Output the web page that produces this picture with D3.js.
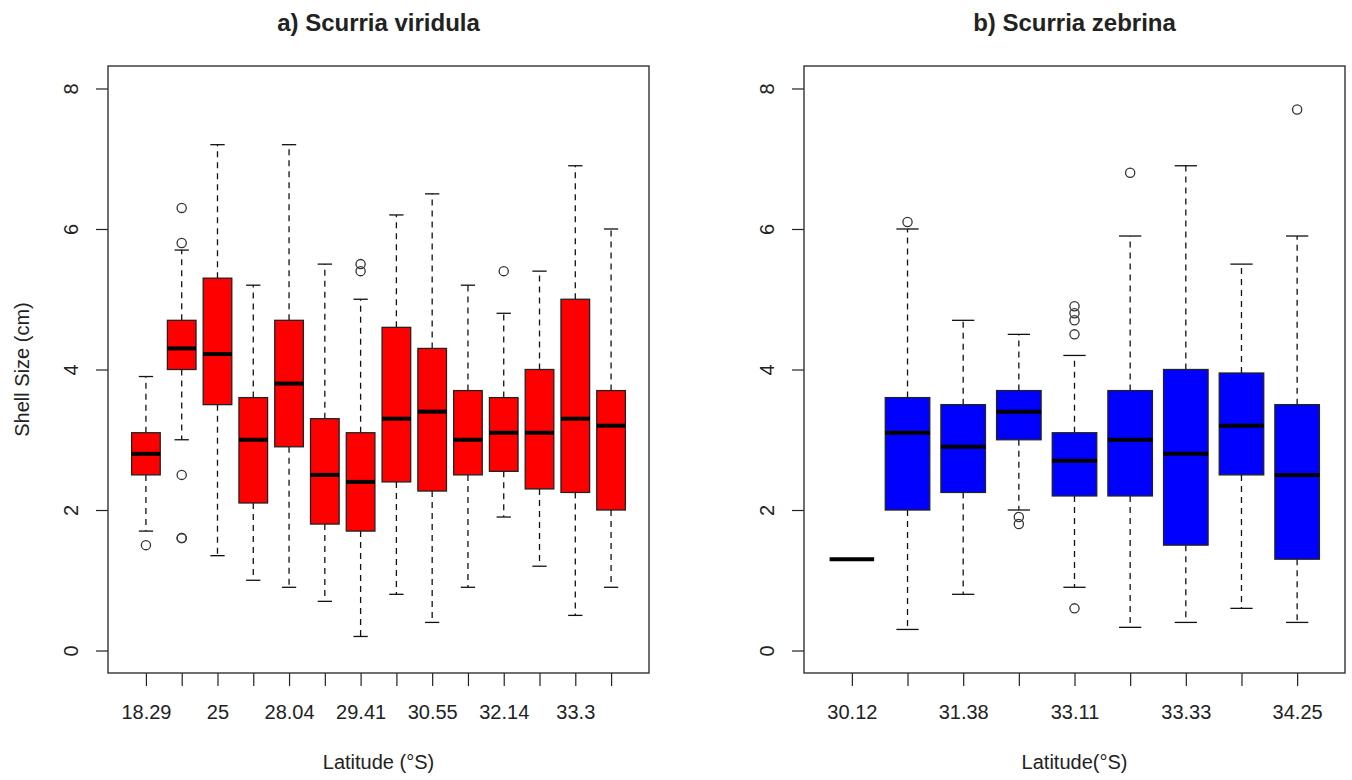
<!DOCTYPE html>
<html>
<head>
<meta charset="utf-8">
<script src="https://cdn.jsdelivr.net/npm/d3@7"></script>
<style>
  body { margin: 0; background: #fff; }
  text { font-family: "Liberation Sans", Arial, Helvetica, sans-serif; fill: #222; }
</style>
</head>
<body>
<div id="chart"></div>
<script>
// a) Scurria viridula  (blank labels = ticks R left unlabelled)
var latA = ["18.29", "", "25", "", "28.04", "", "29.41", "", "30.55", "", "32.14", "", "33.3", ""];
var loA  = [1.7, 3.0, 1.35, 1.0, 0.9, 0.7, 0.2, 0.8, 0.4, 0.9, 1.9, 1.2, 0.5, 0.9];
var q1A  = [2.5, 4.0, 3.5, 2.1, 2.9, 1.8, 1.7, 2.4, 2.27, 2.5, 2.55, 2.3, 2.25, 2.0];
var medA = [2.8, 4.3, 4.22, 3.0, 3.8, 2.5, 2.4, 3.3, 3.4, 3.0, 3.1, 3.1, 3.3, 3.2];
var q3A  = [3.1, 4.7, 5.3, 3.6, 4.7, 3.3, 3.1, 4.6, 4.3, 3.7, 3.6, 4.0, 5.0, 3.7];
var hiA  = [3.9, 5.7, 7.2, 5.2, 7.2, 5.5, 5.0, 6.2, 6.5, 5.2, 4.8, 5.4, 6.9, 6.0];
var outA = [[1.5], [6.3, 5.8, 2.5, 1.6, 1.6], [], [], [], [], [5.5, 5.4], [], [], [], [5.4], [], [], []];

// b) Scurria zebrina
var latB = ["30.12", "", "31.38", "", "33.11", "", "33.33", "", "34.25"];
var loB  = [1.3, 0.3, 0.8, 2.0, 0.9, 0.33, 0.4, 0.6, 0.4];
var q1B  = [1.3, 2.0, 2.25, 3.0, 2.2, 2.2, 1.5, 2.5, 1.3];
var medB = [1.3, 3.1, 2.9, 3.4, 2.7, 3.0, 2.8, 3.2, 2.5];
var q3B  = [1.3, 3.6, 3.5, 3.7, 3.1, 3.7, 4.0, 3.95, 3.5];
var hiB  = [1.3, 6.0, 4.7, 4.5, 4.2, 5.9, 6.9, 5.5, 5.9];
var outB = [[], [6.1], [], [1.9, 1.8], [4.9, 4.8, 4.7, 4.5, 0.6], [6.8], [], [], [7.7]];

var yTicks = [0, 2, 4, 6, 8];

var W = 1352, H = 780;
var svg = d3.select("#chart").append("svg")
  .attr("width", W)
  .attr("height", H);

function panel(o) {
  var n = o.lat.length;
  var ext = 0.04 * n;
  var x = d3.scaleLinear().domain([0.5 - ext, n + 0.5 + ext]).range([o.left, o.right]);
  var y = d3.scaleLinear().domain([-0.32, 8.32]).range([673, 66]);
  var bw = 0.8, cap = 0.4;

  var g = svg.append("g");

  // y axis, labels turned like R's las=0
  var ya = g.append("g")
    .attr("transform", "translate(" + o.left + ",0)")
    .call(d3.axisLeft(y).tickValues(yTicks).tickSize(12));
  ya.select(".domain").remove();
  ya.selectAll("line").attr("stroke", "#222").attr("stroke-width", 1.2);
  ya.selectAll("text")
    .attr("x", null).attr("dy", null)
    .attr("text-anchor", "middle")
    .attr("transform", "translate(-30,0) rotate(-90)")
    .style("font-size", "20px");

  // x axis
  var xa = g.append("g")
    .attr("transform", "translate(0,673)")
    .call(d3.axisBottom(x).tickValues(d3.range(1, n + 1))
      .tickFormat(function(i) { return o.lat[i - 1]; })
      .tickSize(13));
  xa.select(".domain").remove();
  xa.selectAll("line").attr("stroke", "#222").attr("stroke-width", 1.2);
  xa.selectAll("text")
    .attr("y", 46).attr("dy", null)
    .style("font-size", "20px");

  var idx = d3.range(n);
  var box = g.selectAll(".bx").data(idx).enter().append("g").attr("class", "bx");

  // whiskers
  box.filter(function(i) { return o.hi[i] > o.q3[i]; }).append("line")
    .attr("x1", function(i) { return x(i + 1); })
    .attr("x2", function(i) { return x(i + 1); })
    .attr("y1", function(i) { return y(o.q3[i]); })
    .attr("y2", function(i) { return y(o.hi[i]); })
    .attr("stroke", "#111").attr("stroke-width", 1.3).attr("stroke-dasharray", "6,5");
  box.filter(function(i) { return o.lo[i] < o.q1[i]; }).append("line")
    .attr("x1", function(i) { return x(i + 1); })
    .attr("x2", function(i) { return x(i + 1); })
    .attr("y1", function(i) { return y(o.q1[i]); })
    .attr("y2", function(i) { return y(o.lo[i]); })
    .attr("stroke", "#111").attr("stroke-width", 1.3).attr("stroke-dasharray", "6,5");

  // staples
  [o.hi, o.lo].forEach(function(arr) {
    box.filter(function(i) { return arr[i] !== o.med[i]; }).append("line")
      .attr("x1", function(i) { return x(i + 1 - cap / 2); })
      .attr("x2", function(i) { return x(i + 1 + cap / 2); })
      .attr("y1", function(i) { return y(arr[i]); })
      .attr("y2", function(i) { return y(arr[i]); })
      .attr("stroke", "#111").attr("stroke-width", 1.3);
  });

  // boxes
  box.append("rect")
    .attr("x", function(i) { return x(i + 1 - bw / 2); })
    .attr("width", function(i) { return x(i + 1 + bw / 2) - x(i + 1 - bw / 2); })
    .attr("y", function(i) { return y(o.q3[i]); })
    .attr("height", function(i) { return y(o.q1[i]) - y(o.q3[i]); })
    .attr("fill", o.fill)
    .attr("stroke", "#222").attr("stroke-width", 1.3);

  // medians
  box.append("line")
    .attr("x1", function(i) { return x(i + 1 - bw / 2); })
    .attr("x2", function(i) { return x(i + 1 + bw / 2); })
    .attr("y1", function(i) { return y(o.med[i]); })
    .attr("y2", function(i) { return y(o.med[i]); })
    .attr("stroke", "#000").attr("stroke-width", 4);

  // outliers
  idx.forEach(function(i) {
    g.selectAll(null).data(o.out[i]).enter().append("circle")
      .attr("cx", x(i + 1))
      .attr("cy", function(v) { return y(v); })
      .attr("r", 4.6)
      .attr("fill", "none")
      .attr("stroke", "#333").attr("stroke-width", 1.3);
  });

  // frame
  g.append("rect")
    .attr("x", o.left).attr("y", 66)
    .attr("width", o.right - o.left).attr("height", 607)
    .attr("fill", "none").attr("stroke", "#333").attr("stroke-width", 1.4);

  // titles
  var cx = (o.left + o.right) / 2;
  g.append("text")
    .attr("x", cx).attr("y", 31)
    .attr("text-anchor", "middle")
    .style("font-size", "24px").style("font-weight", "bold")
    .text(o.title);
  g.append("text")
    .attr("x", cx).attr("y", 769)
    .attr("text-anchor", "middle")
    .style("font-size", "20px")
    .text(o.xlab);
  if (o.ylab) {
    g.append("text")
      .attr("transform", "translate(29," + y(4) + ") rotate(-90)")
      .attr("text-anchor", "middle")
      .style("font-size", "20px")
      .text(o.ylab);
  }
}

panel({ lat: latA, lo: loA, q1: q1A, med: medA, q3: q3A, hi: hiA, out: outA,
        left: 108, right: 649, fill: "#ff0000",
        title: "a) Scurria viridula", xlab: "Latitude (°S)", ylab: "Shell Size (cm)" });
panel({ lat: latB, lo: loB, q1: q1B, med: medB, q3: q3B, hi: hiB, out: outB,
        left: 804, right: 1345, fill: "#0000ff",
        title: "b) Scurria zebrina", xlab: "Latitude(°S)", ylab: null });
</script>
</body>
</html>
